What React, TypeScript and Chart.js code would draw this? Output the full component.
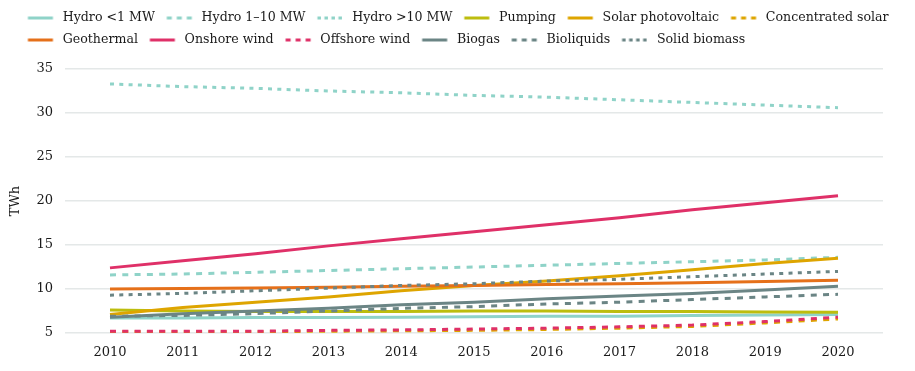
import React, { useEffect, useRef } from 'react';
import { Chart, registerables } from 'chart.js';

Chart.register(...registerables);

const YEARS = [2010, 2011, 2012, 2013, 2014, 2015, 2016, 2017, 2018, 2019, 2020];
const Y_TICKS = [5, 10, 15, 20, 25, 30, 35];

const SERIES_NAMES = [
  'Hydro <1 MW',
  'Hydro 1–10 MW',
  'Hydro >10 MW',
  'Pumping',
  'Solar photovoltaic',
  'Concentrated solar',
  'Geothermal',
  'Onshore wind',
  'Offshore wind',
  'Biogas',
  'Bioliquids',
  'Solid biomass',
];

const hydroSmall = [6.7, 6.7, 6.75, 6.75, 6.8, 6.85, 6.9, 6.9, 7.0, 7.05, 7.1];
const hydroMid = [11.6, 11.7, 11.9, 12.1, 12.3, 12.5, 12.7, 12.9, 13.1, 13.3, 13.6];
const hydroLarge = [33.3, 33.0, 32.8, 32.5, 32.3, 32.0, 31.8, 31.5, 31.2, 30.9, 30.6];
const pumping = [7.6, 7.5, 7.45, 7.45, 7.45, 7.5, 7.5, 7.45, 7.45, 7.4, 7.35];
const solarPV = [7.1, 7.9, 8.5, 9.1, 9.8, 10.4, 10.9, 11.5, 12.2, 12.9, 13.5];
const concentratedSolar = [5.15, 5.15, 5.15, 5.2, 5.25, 5.3, 5.4, 5.55, 5.75, 6.15, 6.6];
const geothermal = [10.0, 10.05, 10.1, 10.2, 10.3, 10.4, 10.5, 10.6, 10.7, 10.85, 11.0];
const onshoreWind = [12.4, 13.2, 14.0, 14.9, 15.7, 16.5, 17.3, 18.1, 19.0, 19.8, 20.6];
const offshoreWind = [5.2, 5.2, 5.2, 5.3, 5.35, 5.45, 5.55, 5.7, 5.9, 6.3, 6.8];
const biogas = [6.8, 7.2, 7.5, 7.8, 8.2, 8.5, 8.9, 9.2, 9.5, 9.9, 10.3];
const bioliquids = [6.9, 7.0, 7.2, 7.5, 7.8, 8.0, 8.3, 8.5, 8.8, 9.1, 9.4];
const solidBiomass = [9.3, 9.5, 9.8, 10.1, 10.4, 10.6, 10.9, 11.1, 11.4, 11.7, 12.0];

const SERIES_VALUES = [
  hydroSmall, hydroMid, hydroLarge, pumping, solarPV, concentratedSolar,
  geothermal, onshoreWind, offshoreWind, biogas, bioliquids, solidBiomass,
];

const TEAL = '#8fd3c8';
const OLIVE = '#bdbd0e';
const GOLD = '#dea500';
const ORANGE = '#e5701a';
const PINK = '#df3068';
const SLATE = '#6b8585';

const SERIES_COLORS = [TEAL, TEAL, TEAL, OLIVE, GOLD, GOLD, ORANGE, PINK, PINK, SLATE, SLATE, SLATE];
// 's' solid, 'd' dashed, 'o' dotted
const SERIES_STYLES = ['s', 'd', 'o', 's', 's', 'd', 's', 's', 'd', 's', 'd', 'o'];

const FONT = { family: '"DejaVu Serif", serif', size: 13 };
const LEGEND_FONT = { family: '"DejaVu Serif", serif', size: 12.6 };
const TEXT_COLOR = '#1a1a1a';

const LINE_DASH: Record<string, number[]> = { s: [], d: [6, 6.3], o: [4, 5.3] };
const LEGEND_DASH: Record<string, number[]> = { s: [], d: [5, 5], o: [3.5, 3.5] };

function makeLegendImage(color: string, dash: number[]) {
  const c = document.createElement('canvas');
  c.width = 31;
  c.height = 8;
  const ctx = c.getContext('2d')!;
  ctx.strokeStyle = color;
  ctx.lineWidth = 3;
  ctx.setLineDash(dash);
  ctx.beginPath();
  ctx.moveTo(2.5, 4);
  ctx.lineTo(27.5, 4);
  ctx.stroke();
  return c;
}

const legendFix = {
  id: 'legendFix',
  afterInit(chart: any) {
    const lg = chart.legend;
    if (!lg) return;
    const orig = lg.fit;
    lg.fit = function () {
      orig.call(this);
      this.height = 61;
    };
  },
  afterLayout(chart: any) {
    const lg = chart.legend;
    if (!lg) return;
    lg.left = 8;
    lg.right = chart.width + 30;
    lg.top = -5.7;
  },
};

export default function App() {
  const ref = useRef<HTMLCanvasElement | null>(null);

  useEffect(() => {
    if (!ref.current) return;
    const datasets = SERIES_NAMES.map((name, i) => ({
      label: name,
      data: YEARS.map((yr, j) => ({ x: yr, y: SERIES_VALUES[i][j] })),
      borderColor: SERIES_COLORS[i],
      backgroundColor: SERIES_COLORS[i],
      borderWidth: 3,
      borderDash: LINE_DASH[SERIES_STYLES[i]],
      pointRadius: 0,
      pointHoverRadius: 0,
      pointStyle: makeLegendImage(SERIES_COLORS[i], LEGEND_DASH[SERIES_STYLES[i]]),
      tension: 0,
      fill: false,
      order: -i,
    }));

    const chart = new Chart(ref.current, {
      type: 'line',
      data: { datasets },
      plugins: [legendFix],
      options: {
        animation: false,
        responsive: true,
        maintainAspectRatio: false,
        events: [],
        layout: { padding: { left: 0, right: 24, top: 0, bottom: 0 } },
        plugins: {
          tooltip: { enabled: false },
          legend: {
            display: true,
            position: 'top',
            align: 'start',
            labels: {
              usePointStyle: true,
              pointStyleWidth: 31,
              padding: 9.4,
              font: LEGEND_FONT,
              color: TEXT_COLOR,
              sort: (a: any, b: any) => a.datasetIndex - b.datasetIndex,
            },
          },
        },
        scales: {
          x: {
            type: 'linear',
            min: 2009.382,
            max: 2020.618,
            grid: { display: false, drawTicks: false },
            border: { display: false },
            afterBuildTicks: (scale: any) => {
              scale.ticks = YEARS.map((v) => ({ value: v }));
            },
            afterFit: (scale: any) => {
              scale.height = 30;
            },
            ticks: {
              autoSkip: false,
              maxRotation: 0,
              padding: 12,
              font: FONT,
              color: TEXT_COLOR,
              callback: (v: any) => String(v),
            },
          },
          y: {
            type: 'linear',
            min: 5,
            max: 35,
            grid: { color: '#e4e8e8', lineWidth: 1.5, drawTicks: false },
            border: { display: false },
            afterBuildTicks: (scale: any) => {
              scale.ticks = Y_TICKS.map((v) => ({ value: v }));
            },
            afterFit: (scale: any) => {
              scale.width = 57;
            },
            ticks: {
              padding: 12,
              font: FONT,
              color: TEXT_COLOR,
              callback: (v: any) => String(v),
            },
            title: {
              display: true,
              text: 'TWh',
              font: FONT,
              color: TEXT_COLOR,
              padding: { top: 0, bottom: 0 },
            },
          },
        },
      },
    });
    return () => chart.destroy();
  }, []);

  return (
    <div style={{ position: 'relative', width: '100%', height: 355 }}>
      <canvas ref={ref} />
    </div>
  );
}
